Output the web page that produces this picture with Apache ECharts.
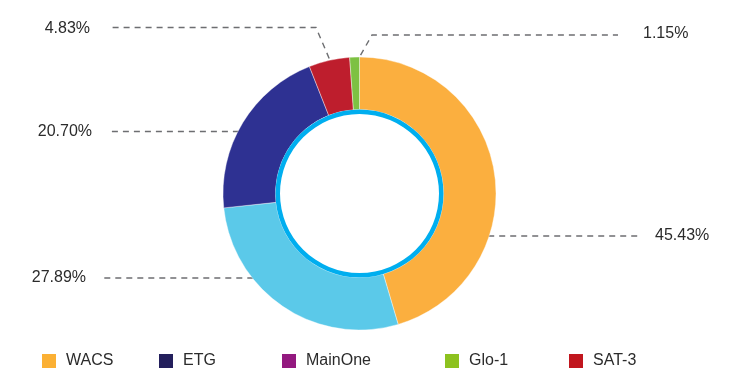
<!DOCTYPE html>
<html>
<head>
<meta charset="utf-8">
<script src="https://cdn.jsdelivr.net/npm/echarts@6/dist/echarts.min.js"></script>
<style>
  html, body { margin: 0; padding: 0; background: #ffffff; }
  #chart { width: 731px; height: 381px; }
</style>
</head>
<body>
<div id="chart"></div>
<script>
// ---- data (clockwise from 12 o'clock) ----
const categories = ['WACS', 'MainOne', 'ETG', 'SAT-3', 'Glo-1'];
const shares = [45.43, 27.89, 20.70, 4.83, 1.15];
const legendOrder = ['WACS', 'ETG', 'MainOne', 'Glo-1', 'SAT-3'];

// ---- styles ----
const sliceColors = {
  'WACS': '#FBAF3F', 'MainOne': '#5BC9E9', 'ETG': '#2E3192',
  'SAT-3': '#BE1E2D', 'Glo-1': '#7DC142'
};
const legendColors = {
  'WACS': '#FBB034', 'ETG': '#231F5C', 'MainOne': '#93197F',
  'Glo-1': '#8DC21F', 'SAT-3': '#C1161E'
};
// legend item left positions (layout)
const legendLeft = { 'WACS': 37, 'ETG': 154, 'MainOne': 277, 'Glo-1': 440, 'SAT-3': 564 };

// ---- layout ----
const CX = 359.5, CY = 193.5, R_OUT = 136.5, R_IN = 84;
const FONT = 'Liberation Sans, Arial, sans-serif';
// label guide layout per category (annotation placement)
const guides = {
  'WACS':    { side: 'right', y: 236,   lineEnd: 642, textX: 655, textY: 236 },
  'MainOne': { side: 'left',  y: 278,   lineEnd: 100, textX: 86,  textY: 277.5 },
  'ETG':     { side: 'left',  y: 131.5, lineEnd: 110, textX: 92,  textY: 132 },
  'SAT-3':   { side: 'left',  y: 27.5,  lineEnd: 111, textX: 90,  textY: 29, bendX: 316 },
  'Glo-1':   { side: 'right', y: 35,    lineEnd: 618, textX: 643, textY: 34, bendX: 372, startShift: 6 }
};

const chart = echarts.init(document.getElementById('chart'), null, { renderer: 'canvas' });

const legends = legendOrder.map(n => ({
  left: legendLeft[n],
  top: 348,
  itemWidth: 14,
  itemHeight: 14,
  itemGap: 10,
  selectedMode: false,
  textStyle: { fontSize: 16, color: '#2b2b2b', fontFamily: FONT, padding: [0, 0, 0, 5] },
  itemStyle: { borderWidth: 0 },
  data: [{
    name: n,
    icon: 'path://M0,0 L10,0 L10,10 L0,10 Z',
    itemStyle: { color: legendColors[n], borderWidth: 0 }
  }]
}));

const option = {
  animation: false,
  backgroundColor: '#ffffff',
  textStyle: { fontFamily: FONT },
  legend: legends,
  series: [
    {
      type: 'pie',
      center: [CX, CY],
      radius: [R_IN, R_OUT],
      startAngle: 90,
      clockwise: true,
      avoidLabelOverlap: false,
      silent: true,
      itemStyle: { borderColor: '#ffffff', borderWidth: 0.4 },
      label: {
        show: true,
        position: 'outside',
        formatter: p => p.value.toFixed(2) + '%',
        fontSize: 16,
        color: '#2b2b2b',
        fontFamily: FONT
      },
      labelLine: {
        show: true,
        lineStyle: { color: '#6d6e71', width: 1.4, type: [6, 5] }
      },
      labelLayout: function (params) {
        const name = categories[params.dataIndex];
        const g = guides[name];
        if (!g) return {};
        let pts;
        if (g.bendX != null) {
          const s = params.labelLinePoints ? params.labelLinePoints[0] : [CX, CY - R_OUT];
          const start = [s[0] + (g.startShift || 0), s[1] - 2];
          pts = [start, [g.bendX, g.y], [g.lineEnd, g.y]];
        } else {
          const dy = g.y - CY;
          const dx = Math.sqrt(Math.max(0, R_OUT * R_OUT - dy * dy));
          const sx = g.side === 'right' ? CX + dx - 1 : CX - dx + 1;
          pts = [[sx, g.y], [(sx + g.lineEnd) / 2, g.y], [g.lineEnd, g.y]];
        }
        return {
          x: g.textX,
          y: g.textY,
          align: g.side === 'right' ? 'left' : 'right',
          verticalAlign: 'middle',
          labelLinePoints: pts
        };
      },
      data: categories.map((n, i) => ({
        name: n,
        value: shares[i],
        itemStyle: { color: sliceColors[n] }
      }))
    },
    {
      type: 'pie',
      center: [CX, CY],
      radius: [79.5, R_IN],
      silent: true,
      label: { show: false },
      labelLine: { show: false },
      itemStyle: { color: '#00AEEF' },
      data: [{ name: 'ring', value: 1 }]
    }
  ]
};

chart.setOption(option);
</script>
</body>
</html>
